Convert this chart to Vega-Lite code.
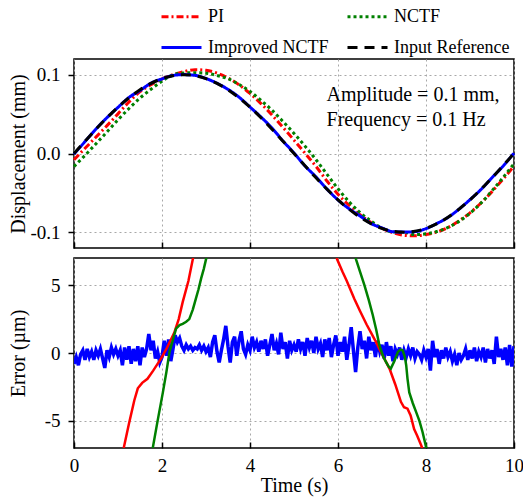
{
  "$schema": "https://vega.github.io/schema/vega-lite/v6.json",
  "padding": {"left": 7, "top": -5, "right": 6, "bottom": 4},
  "config": {
    "font": "Liberation Serif",
    "view": {"stroke": "black", "strokeWidth": 1.5},
    "axis": {"labelFont": "Liberation Serif", "titleFont": "Liberation Serif", "labelFontSize": 19, "titleFontSize": 20, "labelColor": "black", "titleColor": "black", "titleFontWeight": "normal", "domain": false, "tickColor": "black", "tickWidth": 1.5, "gridColor": "#a8a8a8", "gridDash": [2, 3], "gridWidth": 1, "labelFlush": false},
    "concat": {"spacing": 7}
  },
  "datasets": {
    "disp": [
      {"t":0,"d":-0.008,"s":"PI"},{"t":0.25,"d":0.0066,"s":"PI"},{"t":0.5,"d":0.0209,"s":"PI"},{"t":0.75,"d":0.0354,"s":"PI"},{"t":1,"d":0.0503,"s":"PI"},{"t":1.25,"d":0.0655,"s":"PI"},{"t":1.5,"d":0.0785,"s":"PI"},{"t":1.75,"d":0.0875,"s":"PI"},{"t":2,"d":0.0947,"s":"PI"},{"t":2.25,"d":0.1001,"s":"PI"},{"t":2.5,"d":0.104,"s":"PI"},{"t":2.75,"d":0.1064,"s":"PI"},{"t":3,"d":0.1056,"s":"PI"},{"t":3.25,"d":0.1021,"s":"PI"},{"t":3.5,"d":0.0959,"s":"PI"},{"t":3.75,"d":0.0872,"s":"PI"},{"t":4,"d":0.0763,"s":"PI"},{"t":4.25,"d":0.0634,"s":"PI"},{"t":4.5,"d":0.0489,"s":"PI"},{"t":4.75,"d":0.0331,"s":"PI"},{"t":5,"d":0.017,"s":"PI"},{"t":5.25,"d":0.0004,"s":"PI"},{"t":5.5,"d":-0.0164,"s":"PI"},{"t":5.75,"d":-0.0349,"s":"PI"},{"t":6,"d":-0.0518,"s":"PI"},{"t":6.25,"d":-0.0657,"s":"PI"},{"t":6.5,"d":-0.0777,"s":"PI"},{"t":6.75,"d":-0.0876,"s":"PI"},{"t":7,"d":-0.0951,"s":"PI"},{"t":7.25,"d":-0.1006,"s":"PI"},{"t":7.5,"d":-0.1039,"s":"PI"},{"t":7.75,"d":-0.1046,"s":"PI"},{"t":8,"d":-0.1029,"s":"PI"},{"t":8.25,"d":-0.0996,"s":"PI"},{"t":8.5,"d":-0.0939,"s":"PI"},{"t":8.75,"d":-0.0857,"s":"PI"},{"t":9,"d":-0.0753,"s":"PI"},{"t":9.25,"d":-0.0629,"s":"PI"},{"t":9.5,"d":-0.0484,"s":"PI"},{"t":9.75,"d":-0.0326,"s":"PI"},{"t":10,"d":-0.016,"s":"PI"},
      {"t":0,"d":-0.0165,"s":"NCTF"},{"t":0.25,"d":-0.0024,"s":"NCTF"},{"t":0.5,"d":0.0124,"s":"NCTF"},{"t":0.75,"d":0.0274,"s":"NCTF"},{"t":1,"d":0.0428,"s":"NCTF"},{"t":1.25,"d":0.0572,"s":"NCTF"},{"t":1.5,"d":0.0704,"s":"NCTF"},{"t":1.75,"d":0.0816,"s":"NCTF"},{"t":2,"d":0.0919,"s":"NCTF"},{"t":2.25,"d":0.0998,"s":"NCTF"},{"t":2.5,"d":0.1022,"s":"NCTF"},{"t":2.75,"d":0.1026,"s":"NCTF"},{"t":3,"d":0.102,"s":"NCTF"},{"t":3.25,"d":0.0991,"s":"NCTF"},{"t":3.5,"d":0.0949,"s":"NCTF"},{"t":3.75,"d":0.0877,"s":"NCTF"},{"t":4,"d":0.0788,"s":"NCTF"},{"t":4.25,"d":0.0674,"s":"NCTF"},{"t":4.5,"d":0.0549,"s":"NCTF"},{"t":4.75,"d":0.0406,"s":"NCTF"},{"t":5,"d":0.0255,"s":"NCTF"},{"t":5.25,"d":0.0094,"s":"NCTF"},{"t":5.5,"d":-0.0079,"s":"NCTF"},{"t":5.75,"d":-0.0264,"s":"NCTF"},{"t":6,"d":-0.0448,"s":"NCTF"},{"t":6.25,"d":-0.0612,"s":"NCTF"},{"t":6.5,"d":-0.0749,"s":"NCTF"},{"t":6.75,"d":-0.0858,"s":"NCTF"},{"t":7,"d":-0.0949,"s":"NCTF"},{"t":7.25,"d":-0.0997,"s":"NCTF"},{"t":7.5,"d":-0.1,"s":"NCTF"},{"t":7.75,"d":-0.1029,"s":"NCTF"},{"t":8,"d":-0.102,"s":"NCTF"},{"t":8.25,"d":-0.0991,"s":"NCTF"},{"t":8.5,"d":-0.0939,"s":"NCTF"},{"t":8.75,"d":-0.0862,"s":"NCTF"},{"t":9,"d":-0.0758,"s":"NCTF"},{"t":9.25,"d":-0.0629,"s":"NCTF"},{"t":9.5,"d":-0.0474,"s":"NCTF"},{"t":9.75,"d":-0.0306,"s":"NCTF"},{"t":10,"d":-0.013,"s":"NCTF"},
      {"t":0,"d":-0.0008,"s":"Improved NCTF"},{"t":0.25,"d":0.0151,"s":"Improved NCTF"},{"t":0.5,"d":0.0311,"s":"Improved NCTF"},{"t":0.75,"d":0.0456,"s":"Improved NCTF"},{"t":1,"d":0.0586,"s":"Improved NCTF"},{"t":1.25,"d":0.0712,"s":"Improved NCTF"},{"t":1.5,"d":0.08,"s":"Improved NCTF"},{"t":1.75,"d":0.0893,"s":"Improved NCTF"},{"t":2,"d":0.0948,"s":"Improved NCTF"},{"t":2.25,"d":0.0991,"s":"Improved NCTF"},{"t":2.5,"d":0.1002,"s":"Improved NCTF"},{"t":2.75,"d":0.0992,"s":"Improved NCTF"},{"t":3,"d":0.0952,"s":"Improved NCTF"},{"t":3.25,"d":0.0892,"s":"Improved NCTF"},{"t":3.5,"d":0.0814,"s":"Improved NCTF"},{"t":3.75,"d":0.0716,"s":"Improved NCTF"},{"t":4,"d":0.059,"s":"Improved NCTF"},{"t":4.25,"d":0.0463,"s":"Improved NCTF"},{"t":4.5,"d":0.0323,"s":"Improved NCTF"},{"t":4.75,"d":0.0159,"s":"Improved NCTF"},{"t":5,"d":0.0006,"s":"Improved NCTF"},{"t":5.25,"d":-0.0158,"s":"Improved NCTF"},{"t":5.5,"d":-0.0297,"s":"Improved NCTF"},{"t":5.75,"d":-0.0452,"s":"Improved NCTF"},{"t":6,"d":-0.059,"s":"Improved NCTF"},{"t":6.25,"d":-0.0701,"s":"Improved NCTF"},{"t":6.5,"d":-0.0793,"s":"Improved NCTF"},{"t":6.75,"d":-0.0889,"s":"Improved NCTF"},{"t":7,"d":-0.0945,"s":"Improved NCTF"},{"t":7.25,"d":-0.0994,"s":"Improved NCTF"},{"t":7.5,"d":-0.0998,"s":"Improved NCTF"},{"t":7.75,"d":-0.0992,"s":"Improved NCTF"},{"t":8,"d":-0.0954,"s":"Improved NCTF"},{"t":8.25,"d":-0.0888,"s":"Improved NCTF"},{"t":8.5,"d":-0.0812,"s":"Improved NCTF"},{"t":8.75,"d":-0.0707,"s":"Improved NCTF"},{"t":9,"d":-0.0586,"s":"Improved NCTF"},{"t":9.25,"d":-0.0457,"s":"Improved NCTF"},{"t":9.5,"d":-0.0307,"s":"Improved NCTF"},{"t":9.75,"d":-0.0161,"s":"Improved NCTF"},{"t":10,"d":0.0005,"s":"Improved NCTF"},
      {"t":0,"d":0,"s":"Input Reference"},{"t":0.25,"d":0.0156,"s":"Input Reference"},{"t":0.5,"d":0.0309,"s":"Input Reference"},{"t":0.75,"d":0.0454,"s":"Input Reference"},{"t":1,"d":0.0588,"s":"Input Reference"},{"t":1.25,"d":0.0707,"s":"Input Reference"},{"t":1.5,"d":0.0809,"s":"Input Reference"},{"t":1.75,"d":0.0891,"s":"Input Reference"},{"t":2,"d":0.0951,"s":"Input Reference"},{"t":2.25,"d":0.0988,"s":"Input Reference"},{"t":2.5,"d":0.1,"s":"Input Reference"},{"t":2.75,"d":0.0988,"s":"Input Reference"},{"t":3,"d":0.0951,"s":"Input Reference"},{"t":3.25,"d":0.0891,"s":"Input Reference"},{"t":3.5,"d":0.0809,"s":"Input Reference"},{"t":3.75,"d":0.0707,"s":"Input Reference"},{"t":4,"d":0.0588,"s":"Input Reference"},{"t":4.25,"d":0.0454,"s":"Input Reference"},{"t":4.5,"d":0.0309,"s":"Input Reference"},{"t":4.75,"d":0.0156,"s":"Input Reference"},{"t":5,"d":0,"s":"Input Reference"},{"t":5.25,"d":-0.0156,"s":"Input Reference"},{"t":5.5,"d":-0.0309,"s":"Input Reference"},{"t":5.75,"d":-0.0454,"s":"Input Reference"},{"t":6,"d":-0.0588,"s":"Input Reference"},{"t":6.25,"d":-0.0707,"s":"Input Reference"},{"t":6.5,"d":-0.0809,"s":"Input Reference"},{"t":6.75,"d":-0.0891,"s":"Input Reference"},{"t":7,"d":-0.0951,"s":"Input Reference"},{"t":7.25,"d":-0.0988,"s":"Input Reference"},{"t":7.5,"d":-0.1,"s":"Input Reference"},{"t":7.75,"d":-0.0988,"s":"Input Reference"},{"t":8,"d":-0.0951,"s":"Input Reference"},{"t":8.25,"d":-0.0891,"s":"Input Reference"},{"t":8.5,"d":-0.0809,"s":"Input Reference"},{"t":8.75,"d":-0.0707,"s":"Input Reference"},{"t":9,"d":-0.0588,"s":"Input Reference"},{"t":9.25,"d":-0.0454,"s":"Input Reference"},{"t":9.5,"d":-0.0309,"s":"Input Reference"},{"t":9.75,"d":-0.0156,"s":"Input Reference"},{"t":10,"d":0,"s":"Input Reference"}
    ],
    "notes": [
      {"t":5.74,"d":0.0667,"label":"Amplitude = 0.1 mm,"},
      {"t":5.74,"d":0.0351,"label":"Frequency = 0.1 Hz"}
    ],
    "err": [
      {"t":0,"e":-8,"s":"PI"},{"t":0.5,"e":-10,"s":"PI"},{"t":1,"e":-8.5,"s":"PI"},{"t":1.13,"e":-7,"s":"PI"},{"t":1.25,"e":-5.2,"s":"PI"},{"t":1.37,"e":-3.5,"s":"PI"},{"t":1.45,"e":-2.6,"s":"PI"},{"t":1.55,"e":-2.2,"s":"PI"},{"t":1.67,"e":-1.9,"s":"PI"},{"t":1.8,"e":-1.3,"s":"PI"},{"t":1.98,"e":-0.4,"s":"PI"},{"t":2.1,"e":0.3,"s":"PI"},{"t":2.28,"e":1.5,"s":"PI"},{"t":2.38,"e":2.5,"s":"PI"},{"t":2.47,"e":3.75,"s":"PI"},{"t":2.6,"e":5.3,"s":"PI"},{"t":2.7,"e":6.9,"s":"PI"},{"t":2.75,"e":7.6,"s":"PI"},{"t":3,"e":10.5,"s":"PI"},{"t":4,"e":17.5,"s":"PI"},{"t":5,"e":17,"s":"PI"},{"t":5.75,"e":10.5,"s":"PI"},{"t":5.9,"e":8,"s":"PI"},{"t":5.98,"e":6.9,"s":"PI"},{"t":6.1,"e":6,"s":"PI"},{"t":6.2,"e":5.3,"s":"PI"},{"t":6.37,"e":4,"s":"PI"},{"t":6.5,"e":3.1,"s":"PI"},{"t":6.65,"e":2.1,"s":"PI"},{"t":6.75,"e":1.5,"s":"PI"},{"t":6.85,"e":0.9,"s":"PI"},{"t":6.94,"e":0.3,"s":"PI"},{"t":7.05,"e":-0.4,"s":"PI"},{"t":7.17,"e":-1.15,"s":"PI"},{"t":7.3,"e":-2.3,"s":"PI"},{"t":7.43,"e":-3.6,"s":"PI"},{"t":7.5,"e":-4,"s":"PI"},{"t":7.58,"e":-4.1,"s":"PI"},{"t":7.65,"e":-4.6,"s":"PI"},{"t":7.73,"e":-5.6,"s":"PI"},{"t":7.8,"e":-6.1,"s":"PI"},{"t":7.89,"e":-6.8,"s":"PI"},{"t":8,"e":-7.8,"s":"PI"},{"t":9,"e":-16.5,"s":"PI"},{"t":10,"e":-16,"s":"PI"},
      {"t":0,"e":-16.5,"s":"NCTF"},{"t":1,"e":-16,"s":"NCTF"},{"t":1.5,"e":-10.5,"s":"NCTF"},{"t":1.79,"e":-7,"s":"NCTF"},{"t":1.9,"e":-5,"s":"NCTF"},{"t":2.02,"e":-2.9,"s":"NCTF"},{"t":2.1,"e":-1.4,"s":"NCTF"},{"t":2.17,"e":0.07,"s":"NCTF"},{"t":2.25,"e":1,"s":"NCTF"},{"t":2.32,"e":1.8,"s":"NCTF"},{"t":2.4,"e":2.05,"s":"NCTF"},{"t":2.47,"e":2.15,"s":"NCTF"},{"t":2.55,"e":2.3,"s":"NCTF"},{"t":2.62,"e":2.5,"s":"NCTF"},{"t":2.7,"e":3.2,"s":"NCTF"},{"t":2.77,"e":4,"s":"NCTF"},{"t":2.83,"e":4.7,"s":"NCTF"},{"t":2.89,"e":5.5,"s":"NCTF"},{"t":2.95,"e":6.2,"s":"NCTF"},{"t":3,"e":6.9,"s":"NCTF"},{"t":3.25,"e":10,"s":"NCTF"},{"t":5,"e":25.5,"s":"NCTF"},{"t":6.25,"e":9.5,"s":"NCTF"},{"t":6.41,"e":6.9,"s":"NCTF"},{"t":6.5,"e":6,"s":"NCTF"},{"t":6.6,"e":5,"s":"NCTF"},{"t":6.7,"e":3.9,"s":"NCTF"},{"t":6.79,"e":2.8,"s":"NCTF"},{"t":6.87,"e":1.7,"s":"NCTF"},{"t":6.94,"e":0.57,"s":"NCTF"},{"t":7.02,"e":-0.2,"s":"NCTF"},{"t":7.09,"e":-0.66,"s":"NCTF"},{"t":7.15,"e":-1,"s":"NCTF"},{"t":7.2,"e":-1.15,"s":"NCTF"},{"t":7.28,"e":-0.6,"s":"NCTF"},{"t":7.36,"e":0.07,"s":"NCTF"},{"t":7.42,"e":0.25,"s":"NCTF"},{"t":7.47,"e":0.2,"s":"NCTF"},{"t":7.52,"e":-0.3,"s":"NCTF"},{"t":7.55,"e":-0.9,"s":"NCTF"},{"t":7.58,"e":-1.9,"s":"NCTF"},{"t":7.62,"e":-2.9,"s":"NCTF"},{"t":7.7,"e":-3.7,"s":"NCTF"},{"t":7.77,"e":-4.3,"s":"NCTF"},{"t":7.85,"e":-5,"s":"NCTF"},{"t":7.92,"e":-5.8,"s":"NCTF"},{"t":8,"e":-6.9,"s":"NCTF"},{"t":8.25,"e":-10,"s":"NCTF"},{"t":10,"e":-13,"s":"NCTF"}
    ],
    "blue": [
      {"t":0,"e":-0.8},{"t":0.05,"e":-0.3},{"t":0.1,"e":-0.9},{"t":0.15,"e":-0.1},{"t":0.2,"e":0.2},{"t":0.25,"e":-0.5},{"t":0.3,"e":0.3},{"t":0.35,"e":-0.3},{"t":0.4,"e":0.1},{"t":0.45,"e":-0.5},{"t":0.5,"e":0.2},{"t":0.55,"e":-0.2},{"t":0.6,"e":0.3},{"t":0.65,"e":-0.4},{"t":0.7,"e":-1.1},{"t":0.75,"e":0.2},{"t":0.8,"e":-0.3},{"t":0.85,"e":0.4},{"t":0.9,"e":-0.1},{"t":0.95,"e":0.3},
      {"t":1,"e":-0.2},{"t":1.05,"e":0.2},{"t":1.1,"e":-0.9},{"t":1.15,"e":0.4},{"t":1.2,"e":-0.5},{"t":1.25,"e":0.5},{"t":1.3,"e":-0.8},{"t":1.35,"e":0.3},{"t":1.4,"e":-0.6},{"t":1.45,"e":0.5},{"t":1.5,"e":-0.9},{"t":1.55,"e":0.4},{"t":1.6,"e":-0.3},{"t":1.65,"e":0.3},{"t":1.7,"e":1.4},{"t":1.75,"e":0.2},{"t":1.8,"e":0.9},{"t":1.85,"e":-0.4},{"t":1.9,"e":0.1},{"t":1.95,"e":-0.7},
      {"t":2,"e":-0.3},{"t":2.05,"e":0.9},{"t":2.1,"e":-0.2},{"t":2.15,"e":1},{"t":2.2,"e":-0.6},{"t":2.25,"e":0.3},{"t":2.3,"e":1.3},{"t":2.35,"e":0.8},{"t":2.4,"e":1.1},{"t":2.45,"e":0.5},{"t":2.5,"e":0.2},{"t":2.55,"e":0.6},{"t":2.6,"e":0.3},{"t":2.65,"e":0.5},{"t":2.7,"e":0.2},{"t":2.75,"e":0.4},{"t":2.8,"e":0.3},{"t":2.85,"e":0.6},{"t":2.9,"e":0.2},{"t":2.95,"e":0.5},
      {"t":3,"e":0.1},{"t":3.05,"e":0.4},{"t":3.1,"e":-0.3},{"t":3.15,"e":0.8},{"t":3.2,"e":1.3},{"t":3.25,"e":0.1},{"t":3.3,"e":-0.7},{"t":3.35,"e":0.2},{"t":3.4,"e":1},{"t":3.45,"e":2},{"t":3.5,"e":0.5},{"t":3.55,"e":-0.7},{"t":3.6,"e":0.8},{"t":3.65,"e":1.2},{"t":3.7,"e":-0.2},{"t":3.75,"e":0.9},{"t":3.8,"e":1.6},{"t":3.85,"e":0.3},{"t":3.9,"e":-0.1},{"t":3.95,"e":0.6},
      {"t":4,"e":0.2},{"t":4.05,"e":1.2},{"t":4.1,"e":0.4},{"t":4.15,"e":0.8},{"t":4.2,"e":0.1},{"t":4.25,"e":0.9},{"t":4.3,"e":0.3},{"t":4.35,"e":1},{"t":4.4,"e":-0.2},{"t":4.45,"e":0.6},{"t":4.5,"e":1.4},{"t":4.55,"e":0.2},{"t":4.6,"e":0.7},{"t":4.65,"e":-0.1},{"t":4.7,"e":1.5},{"t":4.75,"e":0.3},{"t":4.8,"e":0.8},{"t":4.85,"e":-0.4},{"t":4.9,"e":0.9},{"t":4.95,"e":0.2},
      {"t":5,"e":0.6},{"t":5.05,"e":0.1},{"t":5.1,"e":1},{"t":5.15,"e":0.3},{"t":5.2,"e":0.8},{"t":5.25,"e":-0.2},{"t":5.3,"e":1.1},{"t":5.35,"e":0.4},{"t":5.4,"e":0.9},{"t":5.45,"e":0},{"t":5.5,"e":1.2},{"t":5.55,"e":0.3},{"t":5.6,"e":0.7},{"t":5.65,"e":-0.3},{"t":5.7,"e":1},{"t":5.75,"e":0.2},{"t":5.8,"e":1.1},{"t":5.85,"e":-0.3},{"t":5.9,"e":0.6},{"t":5.95,"e":1.3},
      {"t":6,"e":-0.2},{"t":6.05,"e":0.8},{"t":6.1,"e":0.1},{"t":6.15,"e":1.2},{"t":6.2,"e":-0.5},{"t":6.25,"e":0.6},{"t":6.3,"e":1.9},{"t":6.35,"e":0.2},{"t":6.4,"e":-1.4},{"t":6.45,"e":0.4},{"t":6.5,"e":1.6},{"t":6.55,"e":0.3},{"t":6.6,"e":0.9},{"t":6.65,"e":-0.4},{"t":6.7,"e":1.2},{"t":6.75,"e":0.2},{"t":6.8,"e":0.8},{"t":6.85,"e":-0.3},{"t":6.9,"e":0.9},{"t":6.95,"e":0.1},
      {"t":7,"e":0.6},{"t":7.05,"e":-0.4},{"t":7.1,"e":0.8},{"t":7.15,"e":-0.2},{"t":7.2,"e":0.5},{"t":7.25,"e":-0.6},{"t":7.3,"e":0.3},{"t":7.35,"e":-0.1},{"t":7.4,"e":0.4},{"t":7.45,"e":-0.5},{"t":7.5,"e":0.2},{"t":7.55,"e":-0.3},{"t":7.6,"e":0.3},{"t":7.65,"e":-0.2},{"t":7.7,"e":0.4},{"t":7.75,"e":-0.4},{"t":7.8,"e":0.1},{"t":7.85,"e":-0.1},{"t":7.9,"e":-0.5},{"t":7.95,"e":0.2},
      {"t":8,"e":-0.3},{"t":8.05,"e":0.3},{"t":8.1,"e":-1.3},{"t":8.15,"e":0.9},{"t":8.2,"e":-0.3},{"t":8.25,"e":0.3},{"t":8.3,"e":-0.8},{"t":8.35,"e":0.2},{"t":8.4,"e":-0.4},{"t":8.45,"e":0.4},{"t":8.5,"e":-0.3},{"t":8.55,"e":0.1},{"t":8.6,"e":-0.6},{"t":8.65,"e":-0.1},{"t":8.7,"e":-0.9},{"t":8.75,"e":0},{"t":8.8,"e":-0.5},{"t":8.85,"e":-0.2},{"t":8.9,"e":0.3},{"t":8.95,"e":-0.5},
      {"t":9,"e":0.2},{"t":9.05,"e":-0.4},{"t":9.1,"e":0.4},{"t":9.15,"e":-0.6},{"t":9.2,"e":0.1},{"t":9.25,"e":-0.3},{"t":9.3,"e":0.4},{"t":9.35,"e":-0.7},{"t":9.4,"e":0.3},{"t":9.45,"e":-0.4},{"t":9.5,"e":0.2},{"t":9.55,"e":-0.8},{"t":9.6,"e":1.2},{"t":9.65,"e":-0.3},{"t":9.7,"e":0.3},{"t":9.75,"e":-0.5},{"t":9.8,"e":0.4},{"t":9.85,"e":-0.9},{"t":9.9,"e":0.6},{"t":9.95,"e":-1},{"t":10,"e":0.5}
    ]
  },
  "vconcat": [
    {
      "width": 440,
      "height": 189,
      "layer": [
        {
          "data": {"name": "disp"},
          "mark": {"type": "line", "strokeWidth": 3, "interpolate": "monotone"},
          "encoding": {
            "x": {"field": "t", "type": "quantitative", "scale": {"domain": [0, 10], "nice": false},
                  "axis": {"values": [0, 2, 4, 6, 8, 10], "labels": false, "title": null, "tickSize": -6, "grid": true}},
            "y": {"field": "d", "type": "quantitative", "scale": {"domain": [-0.12, 0.12], "nice": false},
                  "axis": {"values": [-0.1, 0, 0.1], "format": ".1f", "labelExpr": "replace(datum.label, '−', '-')", "title": "Displacement (mm)", "tickSize": 6, "labelPadding": 8, "titleX": -46, "grid": true}},
            "color": {"field": "s", "type": "nominal",
                      "scale": {"domain": ["PI", "NCTF", "Improved NCTF", "Input Reference"], "range": ["#ff0000", "#008000", "#0000ff", "#000000"]},
                      "legend": {"orient": "none", "direction": "horizontal", "legendX": 86, "legendY": -64, "columns": 2, "title": null, "symbolType": "stroke", "symbolSize": 1600, "symbolStrokeWidth": 3, "labelFont": "Liberation Serif", "labelFontSize": 18, "labelColor": "black", "labelOffset": 5, "columnPadding": 12, "rowPadding": -14}},
            "strokeDash": {"field": "s", "type": "nominal",
                      "scale": {"domain": ["PI", "NCTF", "Improved NCTF", "Input Reference"], "range": [[7, 3, 2, 3], [3, 3], [1, 0], [10, 7]]},
                      "legend": {"orient": "none", "direction": "horizontal", "legendX": 86, "legendY": -64, "columns": 2, "title": null, "symbolType": "stroke", "symbolSize": 1600, "symbolStrokeWidth": 3, "labelFont": "Liberation Serif", "labelFontSize": 18, "labelColor": "black", "labelOffset": 5, "columnPadding": 12, "rowPadding": -14}}
          }
        },
        {
          "data": {"name": "notes"},
          "mark": {"type": "text", "align": "left", "baseline": "alphabetic", "fontSize": 20, "font": "Liberation Serif", "color": "black"},
          "encoding": {
            "x": {"field": "t", "type": "quantitative"},
            "y": {"field": "d", "type": "quantitative"},
            "text": {"field": "label"}
          }
        }
      ]
    },
    {
      "width": 440,
      "height": 190,
      "layer": [
        {
          "data": {"name": "blue"},
          "mark": {"type": "line", "strokeWidth": 3.5, "color": "#0000ff", "clip": true},
          "encoding": {
            "x": {"field": "t", "type": "quantitative", "scale": {"domain": [0, 10], "nice": false},
                  "axis": {"values": [0, 2, 4, 6, 8, 10], "title": "Time (s)", "tickSize": -6, "labelPadding": 14, "titlePadding": 0, "grid": true}},
            "y": {"field": "e", "type": "quantitative", "scale": {"domain": [-7, 7], "nice": false},
                  "axis": {"values": [-5, 0, 5], "labelExpr": "replace(datum.label, '−', '-')", "title": "Error (µm)", "tickSize": 6, "labelPadding": 8, "titleX": -46, "grid": true}}
          }
        },
        {
          "data": {"name": "err"},
          "transform": [{"filter": "datum.s === 'PI'"}],
          "mark": {"type": "line", "strokeWidth": 2.5, "color": "#ff0000", "clip": true},
          "encoding": {
            "x": {"field": "t", "type": "quantitative"},
            "y": {"field": "e", "type": "quantitative"}
          }
        },
        {
          "data": {"name": "err"},
          "transform": [{"filter": "datum.s === 'NCTF'"}],
          "mark": {"type": "line", "strokeWidth": 2.5, "color": "#008000", "clip": true},
          "encoding": {
            "x": {"field": "t", "type": "quantitative"},
            "y": {"field": "e", "type": "quantitative"}
          }
        }
      ]
    }
  ]
}
